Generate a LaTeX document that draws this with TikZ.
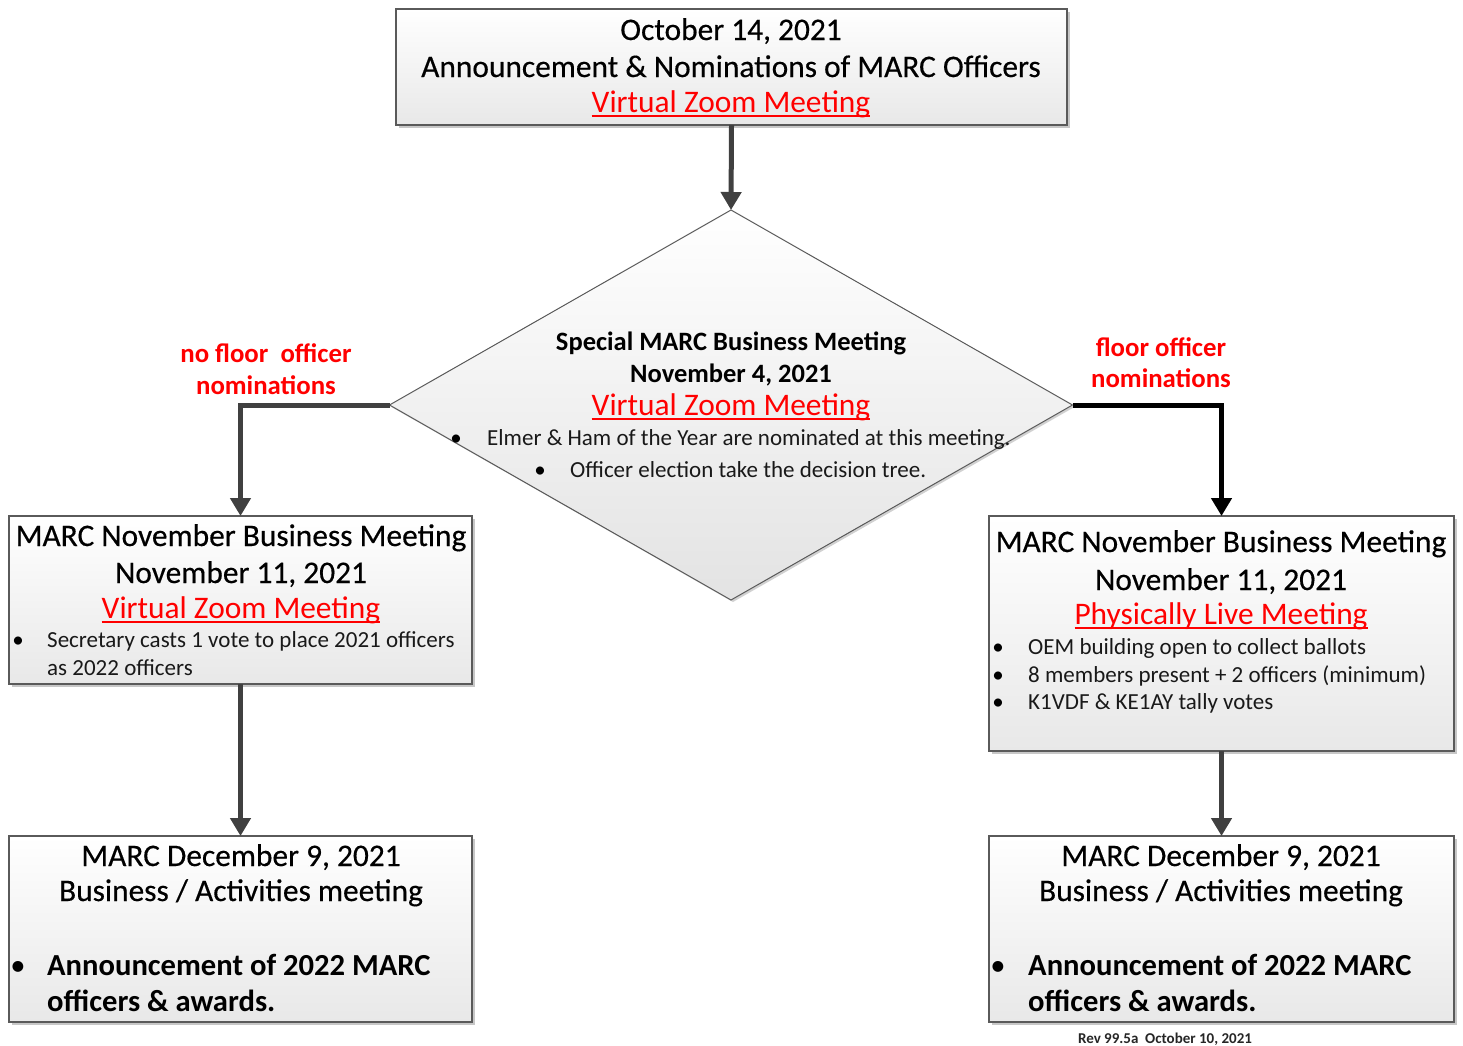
\documentclass[tikz,border=0pt]{standalone}
\usepackage{fontspec}
\setmainfont{Carlito}
\newfontfamily\headfont{Carlito}[FakeBold=0.35]
\usetikzlibrary{shapes.geometric,arrows.meta,shadows}
\definecolor{arrowgray}{HTML}{404040}
\definecolor{boxedge}{HTML}{5A5A5A}
\definecolor{redtxt}{HTML}{FF0000}
\newcommand\redul[1]{\setbox0\hbox{#1}\rlap{\rule[-4.5pt]{\wd0}{1.6pt}}\box0}
\newcommand\fs[1]{\fontsize{#1}{#1}\selectfont}
\tikzset{
  box/.style={draw=boxedge, line width=1.3pt, top color=white, bottom color=black!9,
    anchor=north west, inner sep=0pt, outer sep=0pt,
    drop shadow={shadow xshift=3pt, shadow yshift=-3pt, fill=black!22, opacity=1}},
  dec/.style={diamond, draw=boxedge, line width=1pt, top color=white, bottom color=black!11,
    inner sep=0pt, outer sep=0pt, aspect=1.75, minimum width=683pt, minimum height=390pt,
    drop shadow={shadow xshift=2pt, shadow yshift=-2pt, fill=black!18, opacity=1}},
  garrow/.style={draw=arrowgray, line width=5pt, -{Triangle[width=20pt,length=18pt]}},
  barrow/.style={draw=black, line width=5pt, -{Triangle[width=20pt,length=18pt]}},
  head/.style={anchor=base, inner sep=0pt, font=\headfont\fs{31.4}, text=black},
  dhead/.style={anchor=base, inner sep=0pt, font=\fs{26.5}\bfseries, text=black},
  redline/.style={anchor=base, inner sep=0pt, font=\fs{31.4}, text=redtxt},
  btext/.style={anchor=base west, inner sep=0pt, font=\fs{23}, text=black!90},
  bull/.style={anchor=base, inner sep=0pt, font=\fs{23}, text=black},
  bigb/.style={anchor=base west, inner sep=0pt, font=\fs{30.6}\bfseries, text=black},
  bigbull/.style={anchor=base, inner sep=0pt, font=\fs{30.6}, text=black},
  lbl/.style={anchor=base, inner sep=0pt, font=\fs{26.8}\bfseries, text=redtxt},
}
\begin{document}
\begin{tikzpicture}[x=1pt,y=-1pt]
\useasboundingbox (0,0) rectangle (1463,1045);

% boxes
\node[box, minimum width=671pt, minimum height=116pt] (top) at (396,9) {};
\node[dec] (dec) at (731,405) {};
\node[box, minimum width=463pt, minimum height=168pt] (lmid) at (9,516) {};
\node[box, minimum width=465pt, minimum height=235pt] (rmid) at (989,516) {};
\node[box, minimum width=463pt, minimum height=186pt] (lbot) at (9,836) {};
\node[box, minimum width=465pt, minimum height=186pt] (rbot) at (989,836) {};

% connectors
\draw[garrow] (top.south) -- (dec.north);
\draw[garrow] (dec.west) -| (lmid.north);
\draw[barrow] (dec.east) -| (rmid.north);
\draw[garrow] (lmid.south) -- (lbot.north);
\draw[garrow] (rmid.south) -- (rbot.north);

% top box text
\node[head] (t1) at (731,40) {October 14, 2021};
\node[head] (t2) at (731,77) {Announcement \& Nominations of MARC Officers};
\node[redline] (t3) at (731,112) {\redul{Virtual Zoom Meeting}};

% diamond text
\node[dhead] (d1) at (731,350) {Special MARC Business Meeting};
\node[dhead] (d2) at (731,382) {November 4, 2021};
\node[redline] (d3) at (731,415) {\redul{Virtual Zoom Meeting}};
\node[bull] (db1) at (456,445) {\textbullet};
\node[btext] (dt1) at (487,445) {Elmer \& Ham of the Year are nominated at this meeting.};
\node[bull] (db2) at (540,477) {\textbullet};
\node[btext] (dt2) at (570,477) {Officer election take the decision tree.};

% branch labels
\node[lbl] (ll1) at (266,362) {no floor\ \ officer};
\node[lbl] (ll2) at (266,394) {nominations};
\node[lbl] (rl1) at (1161,356) {floor officer};
\node[lbl] (rl2) at (1161,387) {nominations};

% left middle box
\node[head] (lm1) at (241,546) {MARC November Business Meeting};
\node[head] (lm2) at (241,583) {November 11, 2021};
\node[redline] (lm3) at (241,618) {\redul{Virtual Zoom Meeting}};
\node[bull] (lmb1) at (18,647) {\textbullet};
\node[btext] (lmt1) at (47,647) {Secretary casts 1 vote to place 2021 officers};
\node[btext] (lmt2) at (47,675) {as 2022 officers};

% right middle box
\node[head] (rm1) at (1221,552) {MARC November Business Meeting};
\node[head] (rm2) at (1221,590) {November 11, 2021};
\node[redline] (rm3) at (1221,624) {\redul{Physically Live Meeting}};
\node[bull] (rmb1) at (998,654) {\textbullet};
\node[btext] (rmt1) at (1028,654) {OEM building open to collect ballots};
\node[bull] (rmb2) at (998,682) {\textbullet};
\node[btext] (rmt2) at (1028,682) {8 members present + 2 officers (minimum)};
\node[bull] (rmb3) at (998,709) {\textbullet};
\node[btext] (rmt3) at (1028,709) {K1VDF \& KE1AY tally votes};

% bottom left box
\node[head] (lb1) at (241,866) {MARC December 9, 2021};
\node[head] (lb2) at (241,901) {Business / Activities meeting};
\node[bigbull] (lbb) at (18,975) {\textbullet};
\node[bigb] (lbt1) at (47,975) {Announcement of 2022 MARC};
\node[bigb] (lbt2) at (47,1011) {officers \& awards.};

% bottom right box
\node[head] (rb1) at (1221,866) {MARC December 9, 2021};
\node[head] (rb2) at (1221,901) {Business / Activities meeting};
\node[bigbull] (rbb) at (998,975) {\textbullet};
\node[bigb] (rbt1) at (1028,975) {Announcement of 2022 MARC};
\node[bigb] (rbt2) at (1028,1011) {officers \& awards.};

% revision note
\node[anchor=base, inner sep=0pt, font=\fs{15}\bfseries, text=black!85] (rev) at (1165,1043) {Rev 99.5a\ \ October 10, 2021};
\end{tikzpicture}
\end{document}
